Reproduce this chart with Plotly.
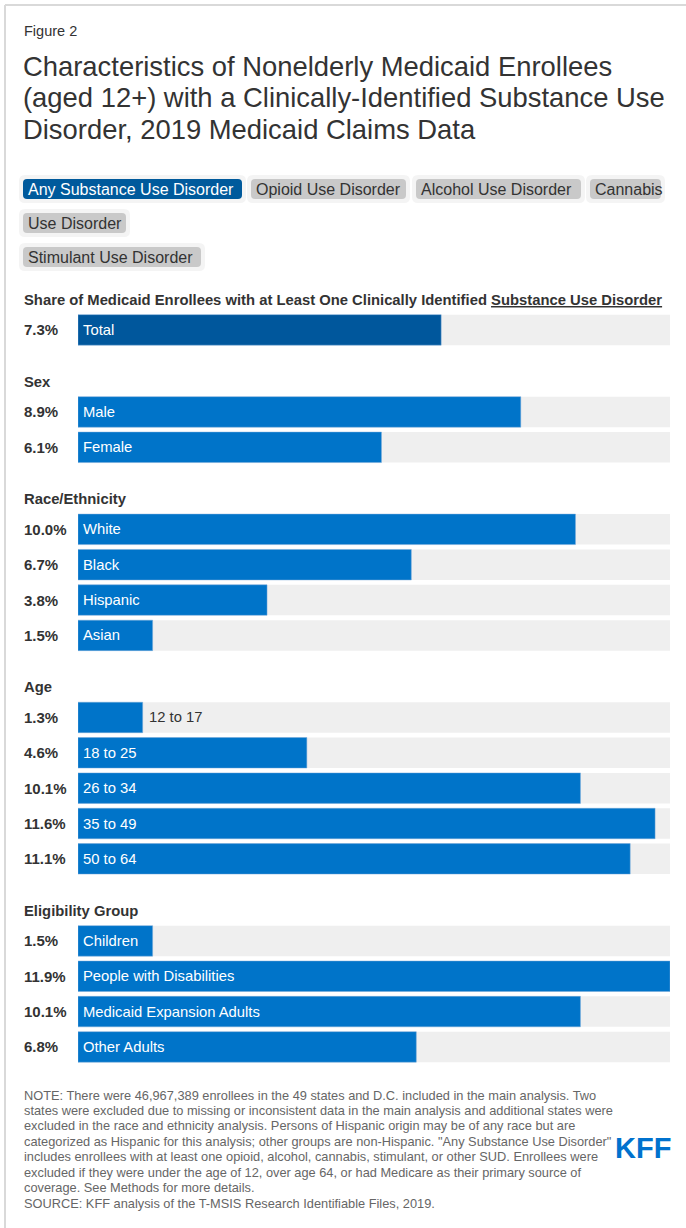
import plotly.graph_objects as go

W, H = 686, 1228
FONT = "Liberation Sans, Arial, Helvetica, sans-serif"

# ---------------- data ----------------
group_titles = [
    "Share of Medicaid Enrollees with at Least One Clinically Identified <u>Substance Use Disorder</u>",
    "Sex",
    "Race/Ethnicity",
    "Age",
    "Eligibility Group",
]
total_labels = ["Total"]
total_values = [7.3]
sex_labels = ["Male", "Female"]
sex_values = [8.9, 6.1]
race_labels = ["White", "Black", "Hispanic", "Asian"]
race_values = [10.0, 6.7, 3.8, 1.5]
age_labels = ["12 to 17", "18 to 25", "26 to 34", "35 to 49", "50 to 64"]
age_values = [1.3, 4.6, 10.1, 11.6, 11.1]
elig_labels = ["Children", "People with Disabilities", "Medicaid Expansion Adults", "Other Adults"]
elig_values = [1.5, 11.9, 10.1, 6.8]

tab_labels = ["Any Substance Use Disorder", "Opioid Use Disorder", "Alcohol Use Disorder",
              "Cannabis", "Use Disorder", "Stimulant Use Disorder"]

title_lines = [
    "Characteristics of Nonelderly Medicaid Enrollees",
    "(aged 12+) with a Clinically-Identified Substance Use",
    "Disorder, 2019 Medicaid Claims Data",
]
note_lines = [
    "NOTE: There were 46,967,389 enrollees in the 49 states and D.C. included in the main analysis. Two",
    "states were excluded due to missing or inconsistent data in the main analysis and additional states were",
    "excluded in the race and ethnicity analysis. Persons of Hispanic origin may be of any race but are",
    "categorized as Hispanic for this analysis; other groups are non-Hispanic. \"Any Substance Use Disorder\"",
    "includes enrollees with at least one opioid, alcohol, cannabis, stimulant, or other SUD. Enrollees were",
    "excluded if they were under the age of 12, over age 64, or had Medicare as their primary source of",
    "coverage. See Methods for more details.",
    "SOURCE: KFF analysis of the T-MSIS Research Identifiable Files, 2019.",
]

groups_labels = [total_labels, sex_labels, race_labels, age_labels, elig_labels]
groups_values = [total_values, sex_values, race_values, age_values, elig_values]

# ---------------- layout geometry ----------------
Y0, STEP, GAP = 329.9, 35.35, 46.7
BAR_W = 30.5
X_LEFT, X_RIGHT = 78, 670

labels, values, ys, header_ys, colors = [], [], [], [], []
y = Y0
for gi, (labs, vals) in enumerate(zip(groups_labels, groups_values)):
    if gi > 0:
        y += GAP
    header_ys.append(y - 30)
    for lab, v in zip(labs, vals):
        labels.append(lab)
        values.append(v)
        ys.append(y)
        colors.append("#00579c" if gi == 0 else "#0074c9")
        y += STEP

vmax = max(values)
px_per_unit = (X_RIGHT - X_LEFT) / vmax

fig = go.Figure()
fig.add_trace(go.Bar(
    x=[vmax] * len(values), y=ys, orientation="h", width=BAR_W,
    marker=dict(color="#efefef", line=dict(width=0)), hoverinfo="skip", showlegend=False,
))
fig.add_trace(go.Bar(
    x=values, y=ys, orientation="h", width=BAR_W,
    marker=dict(color=colors, line=dict(color="rgba(120,170,220,0.6)", width=0.8)),
    hoverinfo="skip", showlegend=False,
))


def px(x):
    return x / W


ann = []
shapes = []

# frame
shapes.append(dict(type="line", xref="paper", yref="y", x0=px(5), x1=1, y0=5, y1=5,
                   line=dict(color="#d9d9d9", width=2)))
shapes.append(dict(type="line", xref="paper", yref="y", x0=px(5), x1=px(5), y0=5, y1=H,
                   line=dict(color="#d9d9d9", width=2)))

# title
ann.append(dict(xref="paper", yref="y", x=px(22), y=31, xanchor="left", yanchor="middle",
                text="Figure 2", showarrow=False, font=dict(family=FONT, size=14.5, color="#333333")))
for i, line in enumerate(title_lines):
    ann.append(dict(xref="paper", yref="y", x=px(21), y=66 + i * 31.5, xanchor="left", yanchor="middle",
                    text=line, showarrow=False, font=dict(family=FONT, size=27.4, color="#333333")))


# tabs
def rrect(x0, y0, x1, y1, r):
    a0, a1 = px(x0), px(x1)
    ra = r / W
    return (f"M {a0+ra},{y0} L {a1-ra},{y0} Q {a1},{y0} {a1},{y0+r} "
            f"L {a1},{y1-r} Q {a1},{y1} {a1-ra},{y1} L {a0+ra},{y1} Q {a0},{y1} {a0},{y1-r} "
            f"L {a0},{y0+r} Q {a0},{y0} {a0+ra},{y0} Z")


tab_boxes = [(23, 242, 189), (251, 406, 189), (416, 581, 189), (590, 661, 189),
             (23, 126, 223), (23, 201, 257)]
for i, (lab, (x0, x1, yc)) in enumerate(zip(tab_labels, tab_boxes)):
    active = i == 0
    shapes.append(dict(type="path", xref="paper", yref="y", path=rrect(x0 - 4, yc - 14, x1 + 4, yc + 14, 6),
                       fillcolor="#f4f4f4", line=dict(width=0), layer="below"))
    shapes.append(dict(type="path", xref="paper", yref="y", path=rrect(x0, yc - 10, x1, yc + 10, 4),
                       fillcolor="#005a9c" if active else "#c9c9c9", line=dict(width=0), layer="below"))
    ann.append(dict(xref="paper", yref="y", x=px(x0 + 3), y=yc, xanchor="left", yanchor="middle",
                    text=lab, showarrow=False,
                    font=dict(family=FONT, size=16, color="#ffffff" if active else "#333333")))

# section headers
for t, hy in zip(group_titles, header_ys):
    ann.append(dict(xref="paper", yref="y", x=px(22), y=hy, xanchor="left", yanchor="middle",
                    text=f"<b>{t}</b>", showarrow=False, font=dict(family=FONT, size=14.8, color="#333333")))

# value labels and bar labels
for lab, v, yy in zip(labels, values, ys):
    ann.append(dict(xref="paper", yref="y", x=px(22), y=yy, xanchor="left", yanchor="middle",
                    text=f"<b>{v:.1f}%</b>", showarrow=False, font=dict(family=FONT, size=15, color="#333333")))
    inside = v * px_per_unit > len(lab) * 7.5 + 10
    if inside:
        ann.append(dict(xref="x", yref="y", x=0, y=yy, xanchor="left", yanchor="middle", xshift=3,
                        text=lab, showarrow=False, font=dict(family=FONT, size=14.8, color="#ffffff")))
    else:
        ann.append(dict(xref="x", yref="y", x=v, y=yy, xanchor="left", yanchor="middle", xshift=4,
                        text=lab, showarrow=False, font=dict(family=FONT, size=14.8, color="#333333")))

# notes
for i, line in enumerate(note_lines):
    ann.append(dict(xref="paper", yref="y", x=px(22), y=1095 + i * 15.45, xanchor="left", yanchor="middle",
                    text=line, showarrow=False, font=dict(family=FONT, size=12.8, color="#666666")))

# logo
ann.append(dict(xref="paper", yref="y", x=px(643), y=1148, xanchor="center", yanchor="middle",
                text="<b>KFF</b>", showarrow=False,
                font=dict(family="Liberation Sans Narrow, Arial Narrow, " + FONT, size=29, color="#0072ce")))

fig.update_layout(
    width=W, height=H, autosize=False,
    margin=dict(l=0, r=0, t=0, b=0, pad=0),
    paper_bgcolor="#ffffff", plot_bgcolor="rgba(0,0,0,0)",
    barmode="overlay",
    xaxis=dict(domain=[X_LEFT / W, X_RIGHT / W], range=[0, vmax], visible=False, fixedrange=True),
    yaxis=dict(domain=[0, 1], range=[H, 0], visible=False, fixedrange=True),
    annotations=ann, shapes=shapes,
    showlegend=False,
)

fig.write_html("out.html", config={"displayModeBar": False},
               post_script="document.body.style.margin='0';")
